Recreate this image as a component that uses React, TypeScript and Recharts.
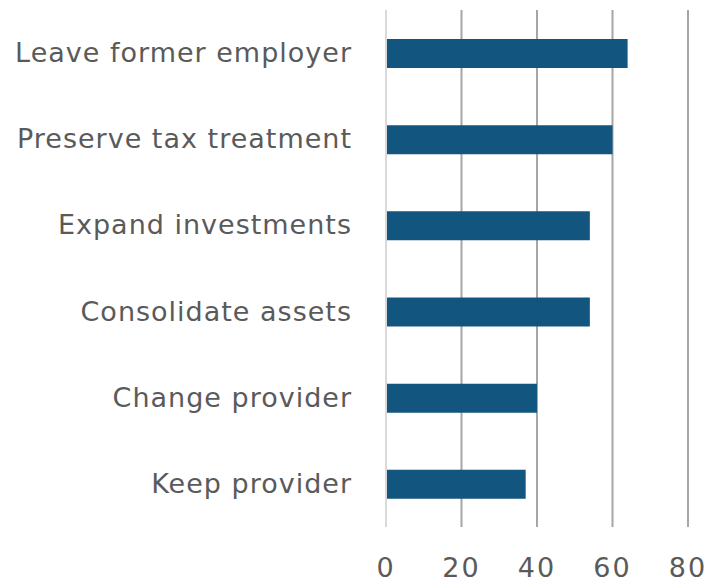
import React from "react";
import { BarChart, Bar, XAxis, YAxis, CartesianGrid, ReferenceLine } from "recharts";

const categories = [
  "Leave former employer",
  "Preserve tax treatment",
  "Expand investments",
  "Consolidate assets",
  "Change provider",
  "Keep provider",
];
const values = [64, 60, 54, 54, 40, 37];
const xTicks = [0, 20, 40, 60, 80];

const data = categories.map((name, i) => ({ name, value: values[i] }));

const FONT = "'DejaVu Sans', sans-serif";
const TEXT = "#5a5a5a";

const YTick = (props: any) => {
  const { x, y, payload } = props;
  return (
    <text x={x - 26} y={y} dy={9} textAnchor="end" fill={TEXT} fontFamily={FONT} fontSize={27} letterSpacing={1}>
      {payload.value}
    </text>
  );
};

const XTick = (props: any) => {
  const { x, y, payload } = props;
  return (
    <text x={x} y={y} dy={42} textAnchor="middle" fill={TEXT} fontFamily={FONT} fontSize={27} letterSpacing={2}>
      {payload.value}
    </text>
  );
};

export default function App() {
  return (
    <div style={{ position: "absolute", left: 0, top: 0, width: 720, height: 582, background: "#fff" }}>
      <BarChart
        width={720}
        height={582}
        data={data}
        layout="vertical"
        margin={{ top: 10, right: 32, left: 0, bottom: 0 }}
      >
        <CartesianGrid horizontal={false} stroke="#a6a6a6" strokeWidth={2} />
        <XAxis
          type="number"
          domain={[0, 80]}
          ticks={xTicks}
          axisLine={false}
          tickLine={false}
          height={55}
          tick={<XTick />}
          interval={0}
        />
        <YAxis
          type="category"
          dataKey="name"
          width={386}
          axisLine={false}
          tickLine={false}
          tick={<YTick />}
          interval={0}
        />
        <ReferenceLine x={0} stroke="#d9d9d9" strokeWidth={2} />
        <Bar dataKey="value" fill="#12557f" barSize={29} isAnimationActive={false} />
      </BarChart>
    </div>
  );
}
